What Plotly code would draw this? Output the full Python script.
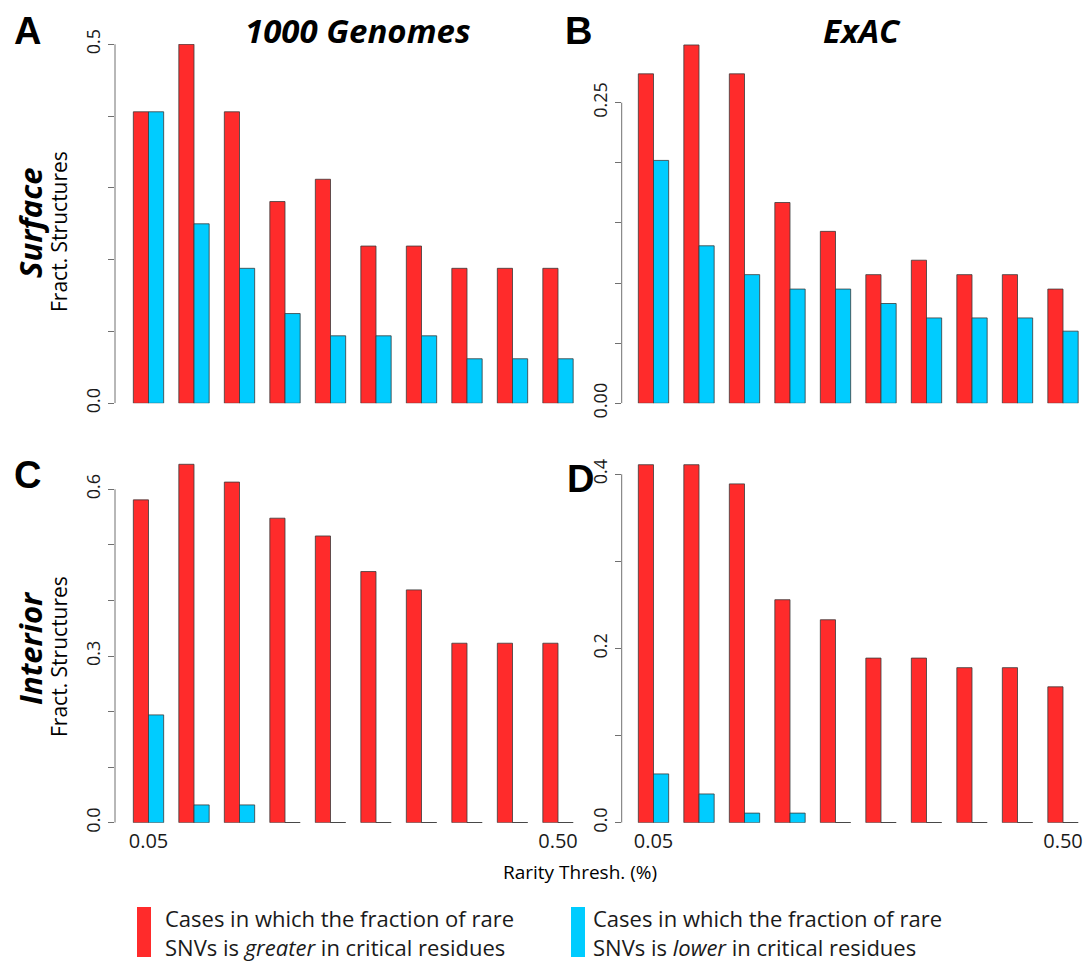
import plotly.graph_objects as go
import numpy as np

# ---------------- data ----------------
thresholds = ["0.05", "0.10", "0.15", "0.20", "0.25", "0.30", "0.35", "0.40", "0.45", "0.50"]

surface_1000g_greater = [0.406, 0.500, 0.406, 0.281, 0.312, 0.219, 0.219, 0.188, 0.188, 0.188]
surface_1000g_lower   = [0.406, 0.250, 0.188, 0.125, 0.094, 0.094, 0.094, 0.062, 0.062, 0.062]

surface_exac_greater  = [0.274, 0.298, 0.274, 0.167, 0.143, 0.107, 0.119, 0.107, 0.107, 0.095]
surface_exac_lower    = [0.202, 0.131, 0.107, 0.095, 0.095, 0.083, 0.071, 0.071, 0.071, 0.060]

interior_1000g_greater = [0.581, 0.645, 0.613, 0.548, 0.516, 0.452, 0.419, 0.323, 0.323, 0.323]
interior_1000g_lower   = [0.194, 0.032, 0.032, 0.0, 0.0, 0.0, 0.0, 0.0, 0.0, 0.0]

interior_exac_greater  = [0.411, 0.411, 0.389, 0.256, 0.233, 0.189, 0.189, 0.178, 0.178, 0.156]
interior_exac_lower    = [0.056, 0.033, 0.011, 0.011, 0.0, 0.0, 0.0, 0.0, 0.0, 0.0]

y_ticks_A = [0.0, 0.1, 0.2, 0.3, 0.4, 0.5]
y_labels_A = ["0.0", "", "", "", "", "0.5"]
y_ticks_B = [0.0, 0.05, 0.10, 0.15, 0.20, 0.25]
y_labels_B = ["0.00", "", "", "", "", "0.25"]
y_ticks_C = [0.0, 0.1, 0.2, 0.3, 0.4, 0.5, 0.6]
y_labels_C = ["0.0", "", "", "0.3", "", "", "0.6"]
y_ticks_D = [0.0, 0.1, 0.2, 0.3, 0.4]
y_labels_D = ["0.0", "", "0.2", "", "0.4"]

legend_greater = "Cases in which the fraction of rare<br>SNVs is <i>greater</i> in critical residues"
legend_lower = "Cases in which the fraction of rare<br>SNVs is <i>lower</i> in critical residues"

# ---------------- style ----------------
RED = "#FF2B2B"
BLUE = "#00CCFF"
EDGE = "#3a3a3a"
AXIS = "#707070"
TXT = "#1a1a1a"
FONT = "Open Sans"

W, H = 1084, 961


def fx(px):
    return px / W


def fy(py):
    return 1 - py / H


pitch = 45.5  # px per group
panels = [
    dict(letter="A", greater=surface_1000g_greater, lower=surface_1000g_lower,
         c0=148.5, L=115.0, R=581.0, z=403.3, s=(403.3 - 44.3) / 0.5, top=44.0,
         tv=y_ticks_A, tt=y_labels_A, xlab=False),
    dict(letter="B", greater=surface_exac_greater, lower=surface_exac_lower,
         c0=653.5, L=621.7, R=1083.0, z=403.3, s=(403.3 - 102.7) / 0.25, top=44.0,
         tv=y_ticks_B, tt=y_labels_B, xlab=False),
    dict(letter="C", greater=interior_1000g_greater, lower=interior_1000g_lower,
         c0=148.5, L=115.0, R=581.0, z=822.7, s=(822.7 - 489.3) / 0.6, top=462.0,
         tv=y_ticks_C, tt=y_labels_C, xlab=True),
    dict(letter="D", greater=interior_exac_greater, lower=interior_exac_lower,
         c0=653.5, L=621.7, R=1083.0, z=822.7, s=(822.7 - 474.3) / 0.4, top=462.0,
         tv=y_ticks_D, tt=y_labels_D, xlab=True),
]

fig = go.Figure()
layout = {}
shapes = []
pos = np.arange(len(thresholds))

for k, p in enumerate(panels):
    sfx = "" if k == 0 else str(k + 1)
    xa, ya = "x" + sfx, "y" + sfx
    fig.add_trace(go.Bar(x=pos, y=p["greater"], xaxis=xa, yaxis=ya, marker_color=RED,
                         marker_line=dict(color=EDGE, width=0.8), showlegend=False,
                         offsetgroup="g", name="greater"))
    fig.add_trace(go.Bar(x=pos, y=p["lower"], xaxis=xa, yaxis=ya, marker_color=BLUE,
                         marker_line=dict(color=EDGE, width=0.8), showlegend=False,
                         offsetgroup="l", name="lower"))
    # zero-height bars drawn as a baseline outline (as R does)
    zx, zy = [], []
    for i, v in enumerate(p["lower"]):
        if v == 0:
            zx += [i, i + 1 / 3, None]
            zy += [0, 0, None]
    if zx:
        fig.add_trace(go.Scatter(x=zx, y=zy, mode="lines", xaxis=xa, yaxis=ya,
                                 line=dict(color=EDGE, width=1.3), showlegend=False,
                                 hoverinfo="skip"))
    xr = [(p["L"] - p["c0"]) / pitch, (p["R"] - p["c0"]) / pitch]
    yr = [0, (p["z"] - p["top"]) / p["s"]]
    layout["xaxis" + sfx] = dict(
        domain=[fx(p["L"]), fx(p["R"])], range=xr, anchor=ya,
        showgrid=False, zeroline=False, showline=False, ticks="",
        tickvals=[pos[0], pos[-1]] if p["xlab"] else [],
        ticktext=[thresholds[0], thresholds[-1]] if p["xlab"] else [],
        tickfont=dict(family=FONT, size=20, color=TXT), ticklabelstandoff=4,
    )
    layout["yaxis" + sfx] = dict(
        domain=[fy(p["z"]), fy(p["top"])], range=yr, anchor=xa,
        showgrid=False, zeroline=False, showline=False,
        ticks="outside", ticklen=6, tickwidth=1, tickcolor=AXIS,
        tickvals=p["tv"], ticktext=p["tt"], tickangle=-90,
        tickfont=dict(family=FONT, size=18, color=TXT), ticklabelstandoff=1,
    )
    shapes.append(dict(type="line", xref=xa + " domain", yref=ya, x0=0, x1=0,
                       y0=p["tv"][0], y1=p["tv"][-1], line=dict(color=AXIS, width=1)))

annotations = []


def ann(text, x, y, size, bold=False, italic=False, angle=0, xanchor="center",
        yanchor="middle", family=FONT):
    t = text
    if italic:
        t = "<i>" + t + "</i>"
    if bold:
        t = "<b>" + t + "</b>"
    annotations.append(dict(text=t, x=fx(x), y=fy(y), xref="paper", yref="paper",
                            showarrow=False, textangle=angle, xanchor=xanchor,
                            yanchor=yanchor, font=dict(family=family, size=size, color="#000")))


# panel letters
for p, (lx, ly) in zip(panels, [(27, 31), (578, 31), (27, 475), (580, 479)]):
    ann(p["letter"], lx, ly, 38, bold=True, family="Liberation Sans")

# column titles
ann("1000 Genomes", 358, 31, 33, bold=True, italic=True)
ann("ExAC", 862, 31, 33, bold=True, italic=True)

# row labels
ann("Surface", 30, 223, 31, bold=True, italic=True, angle=-90)
ann("Interior", 30, 648, 31, bold=True, italic=True, angle=-90)
ann("Fract. Structures", 59, 232, 21, angle=-90)
ann("Fract. Structures", 59, 657, 21, angle=-90)

# x title
ann("Rarity Thresh. (%)", 580, 872, 19)

# legend
shapes.append(dict(type="rect", xref="paper", yref="paper", x0=fx(137), x1=fx(151),
                   y0=fy(957), y1=fy(907), fillcolor=RED, line=dict(width=0)))
shapes.append(dict(type="rect", xref="paper", yref="paper", x0=fx(571), x1=fx(585),
                   y0=fy(957), y1=fy(907), fillcolor=BLUE, line=dict(width=0)))
annotations.append(dict(text=legend_greater, x=fx(163), y=fy(932), xref="paper", yref="paper",
                        showarrow=False, xanchor="left", yanchor="middle", align="left",
                        font=dict(family=FONT, size=22, color=TXT)))
annotations.append(dict(text=legend_lower, x=fx(591), y=fy(932), xref="paper", yref="paper",
                        showarrow=False, xanchor="left", yanchor="middle", align="left",
                        font=dict(family=FONT, size=22, color=TXT)))

fig.update_layout(
    width=W, height=H, margin=dict(l=0, r=0, t=0, b=0, autoexpand=False),
    paper_bgcolor="white", plot_bgcolor="white",
    barmode="group", bargap=1 / 3, bargroupgap=0,
    shapes=shapes, annotations=annotations, **layout,
)

fig.write_html("out.html", config={"displayModeBar": False},
               post_script="document.body.style.margin='0';")
